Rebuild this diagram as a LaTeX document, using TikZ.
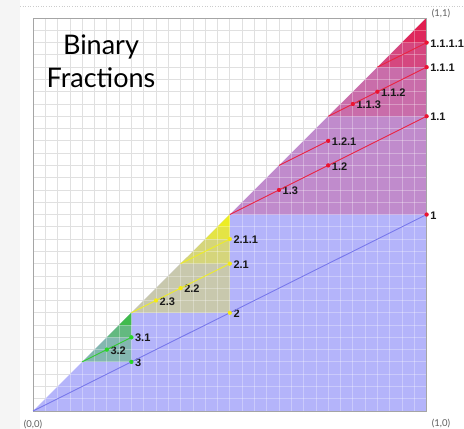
\documentclass[tikz,border=0pt]{standalone}
\usepackage{fontspec}
\setmainfont{Lato}
\newfontfamily\labfont{Liberation Sans}
\definecolor{baseblue}{RGB}{180,180,250}
\definecolor{ovred}{RGB}{228,30,80}
\definecolor{ovyel}{RGB}{240,240,30}
\definecolor{ovgre}{RGB}{40,190,40}
\definecolor{lnblue}{RGB}{120,120,235}
\definecolor{lnred}{RGB}{235,35,65}
\definecolor{lnyel}{RGB}{238,238,40}
\definecolor{lngre}{RGB}{50,205,50}
\definecolor{dotred}{RGB}{235,20,50}
\definecolor{dotyel}{RGB}{245,235,20}
\definecolor{dotgre}{RGB}{40,215,40}
\definecolor{gridgray}{RGB}{224,224,224}
\definecolor{framegray}{RGB}{165,165,165}
\definecolor{labgray}{RGB}{95,95,95}
\definecolor{stripgray}{RGB}{245,245,245}
\tikzset{
  redov/.style={fill=ovred, fill opacity=0.27},
  yelov/.style={fill=ovyel, fill opacity=0.35},
  greov/.style={fill=ovgre, fill opacity=0.35},
  gridline/.style={draw=gridgray, line width=0.8pt},
  whitegrid/.style={draw=white, line width=0.8pt, draw opacity=0.3},
  conn/.style={line width=0.9pt, #1},
  dotn/.style={circle, inner sep=0pt, minimum size=4pt, fill=#1},
  ptlab/.style={anchor=west, font=\labfont\bfseries\fontsize{11}{12}\selectfont, text=black!90, inner sep=0pt, xshift=3.5pt, yshift=-0.8pt},
  cornerlab/.style={font=\fontsize{9.5}{11}\selectfont, text=labgray, inner sep=0pt},
  titlelab/.style={font=\fontsize{27}{30}\selectfont, text=black, inner sep=0pt, anchor=base},
}
% recursive nested triangles: a, s, style
\newcommand\bftri[3]{%
  \fill[#3] (#1,#1) -- (#1+#2,#1) -- (#1+#2,#1+#2) -- cycle;
  \foreach \bfk in {1,...,5}{%
    \pgfmathsetmacro\bfsz{#2/(2^\bfk)}%
    \ifdim\bfsz pt<0.99pt\relax\else
      \pgfmathsetmacro\bfaa{#1+#2-\bfsz}%
      \edef\bfnext{\noexpand\bftri{\bfaa}{\bfsz}{#3}}%
      \bfnext
    \fi
  }%
}
\newcommand\bfpt[5]{%
  \node[dotn=#4] (#1) at (#2,#3) {};
  \node[ptlab] (#1l) at (#1.center) {#5};
}
\begin{document}
\begin{tikzpicture}
\useasboundingbox (0pt,0pt) rectangle (464pt,429pt);
\fill[white] (0pt,0pt) rectangle (464pt,429pt);
\fill[stripgray] (0pt,0pt) rectangle (20pt,429pt);
\draw[gray!40, dotted, line width=0.6pt] (20pt,423pt) -- (464pt,423pt);
\begin{scope}[shift={(33pt,18pt)}, x=12.3pt, y=12.28pt]
  % grid on white
  \foreach \i in {1,...,31}{
    \draw[gridline] (\i,0) -- (\i,32);
    \draw[gridline] (0,\i) -- (32,\i);
  }
  % base blue triangle
  \fill[baseblue] (0,0) -- (32,0) -- (32,32) -- cycle;
  % nested overlays
  \bftri{16}{16}{redov}
  \bftri{8}{8}{yelov}
  \bftri{4}{4}{greov}
  % light grid over colours
  \begin{scope}
    \clip (0,0) -- (32,0) -- (32,32) -- cycle;
    \foreach \i in {1,...,31}{
      \draw[whitegrid] (\i,0) -- (\i,32);
      \draw[whitegrid] (0,\i) -- (32,\i);
    }
  \end{scope}
  \draw[framegray, line width=0.8pt] (0,0) rectangle (32,32);
  % corner coordinates
  \coordinate (o) at (0,0);
  \coordinate (c16) at (16,16);
  \coordinate (c24) at (24,24);
  \coordinate (c28) at (28,28);
  \coordinate (c20) at (20,20);
  \coordinate (c8) at (8,8);
  \coordinate (c12) at (12,12);
  \coordinate (c4) at (4,4);
  % points
  \bfpt{p1}{32}{16}{dotred}{1}
  \bfpt{p2}{16}{8}{dotyel}{2}
  \bfpt{p3}{8}{4}{dotgre}{3}
  \bfpt{p11}{32}{24}{dotred}{1.1}
  \bfpt{p12}{24}{20}{dotred}{1.2}
  \bfpt{p13}{20}{18}{dotred}{1.3}
  \bfpt{p111}{32}{28}{dotred}{1.1.1}
  \bfpt{p112}{28}{26}{dotred}{1.1.2}
  \bfpt{p113}{26}{25}{dotred}{1.1.3}
  \bfpt{p1111}{32}{30}{dotred}{1.1.1.1}
  \bfpt{p121}{24}{22}{dotred}{1.2.1}
  \bfpt{p21}{16}{12}{dotyel}{2.1}
  \bfpt{p22}{12}{10}{dotyel}{2.2}
  \bfpt{p23}{10}{9}{dotyel}{2.3}
  \bfpt{p211}{16}{14}{dotyel}{2.1.1}
  \bfpt{p31}{8}{6}{dotgre}{3.1}
  \bfpt{p32}{6}{5}{dotgre}{3.2}
  % connectors
  \draw[conn=lnblue] (o) -- (p1.center);
  \draw[conn=lnred] (c16) -- (p11.center);
  \draw[conn=lnred] (c24) -- (p111.center);
  \draw[conn=lnred] (c28) -- (p1111.center);
  \draw[conn=lnred] (c20) -- (p121.center);
  \draw[conn=lnyel] (c8) -- (p21.center);
  \draw[conn=lnyel] (c12) -- (p211.center);
  \draw[conn=lngre] (c4) -- (p31.center);
  % redraw dots on top
  \foreach \n/\c in {p1/dotred,p2/dotyel,p3/dotgre,p11/dotred,p12/dotred,p13/dotred,p111/dotred,p112/dotred,p113/dotred,p1111/dotred,p121/dotred,p21/dotyel,p22/dotyel,p23/dotyel,p211/dotyel,p31/dotgre,p32/dotgre}{
    \fill[\c] (\n.center) circle (2pt);
  }
  % corner labels
  \node[cornerlab] (l00) at (0,-1.06) {(0,0)};
  \node[cornerlab] (l10) at (33.17,-0.98) {(1,0)};
  \node[cornerlab] (l11) at (33.17,32.4) {(1,1)};
\end{scope}
\node[titlelab] (t1) at (101pt,374pt) {Binary};
\node[titlelab] (t2) at (101pt,341pt) {Fractions};
\end{tikzpicture}
\end{document}
